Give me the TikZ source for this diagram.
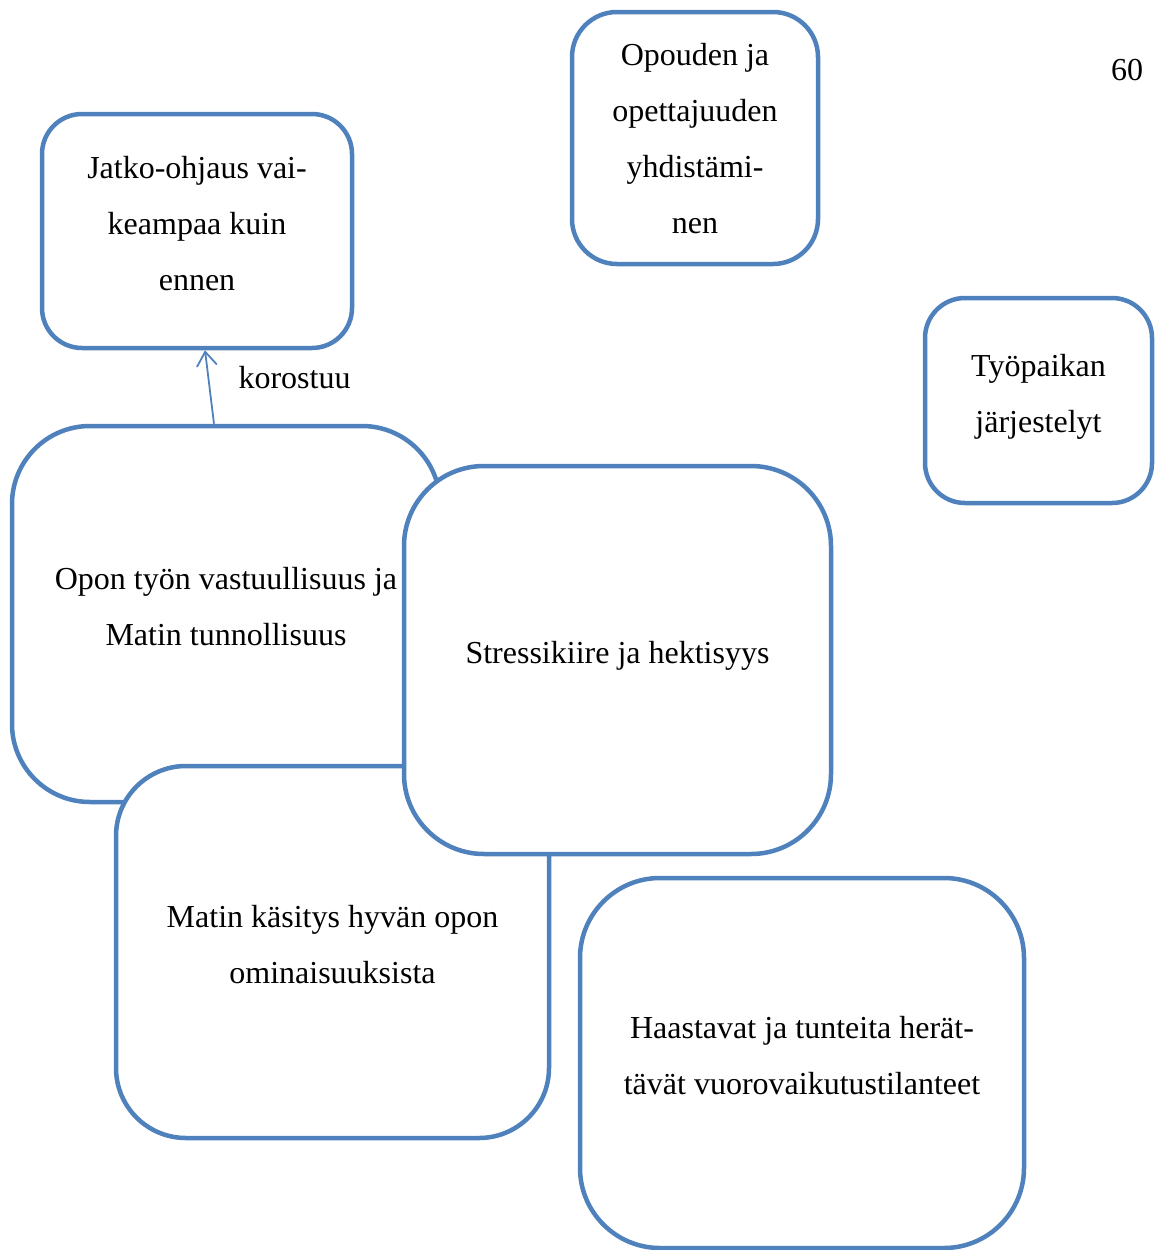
\documentclass[tikz,border=0pt]{standalone}
\usepackage{fontspec}
\setmainfont{Liberation Serif}
\usepackage{tikz}
\usetikzlibrary{arrows.meta,positioning}
\definecolor{boxblue}{RGB}{79,129,189}

\begin{document}
\begin{tikzpicture}[
    x=1pt, y=-1pt,
    font=\fontsize{32}{56}\selectfont,
    box/.style={
      rectangle, draw=boxblue, line width=4.5pt, fill=white,
      text centered, align=center, inner sep=0pt, text depth=15pt
    },
    arr/.style={-{Straight Barb[length=14pt,width=20pt]}, draw=boxblue, line width=1.8pt},
  ]
    \useasboundingbox (0,0) rectangle (1154,1250);

    \node[box, rounded corners=40pt, minimum width=310pt, minimum height=234pt] (jatko)   at (197,231)     {Jatko-ohjaus vai-\\keampaa kuin\\ennen};
    \node[box, rounded corners=45pt, minimum width=246pt, minimum height=252pt, text depth=0pt] (opouden) at (695,138) {Opouden ja\\opettajuuden\\yhdistämi-\\nen};
    \node[box, rounded corners=40pt, minimum width=227pt, minimum height=205pt] (tyopaikka) at (1038.5,400.5) {Työpaikan\\järjestelyt};
    \node[box, rounded corners=78pt, minimum width=428pt, minimum height=376pt] (opon)    at (226,614)     {Opon työn vastuullisuus ja\\Matin tunnollisuus};
    \node[box, rounded corners=70pt, minimum width=433pt, minimum height=372pt] (matin)   at (332.5,952)   {Matin käsitys hyvän opon\\ominaisuuksista};
    \node[box, rounded corners=80pt, minimum width=427pt, minimum height=388pt] (stressi) at (617.5,660)   {Stressikiire ja hektisyys};
    \node[box, rounded corners=80pt, minimum width=444pt, minimum height=370pt] (haaste)  at (802,1063)    {Haastavat ja tunteita herät-\\tävät vuorovaikutustilanteet};

    \node (sivu) at (1127,70) {60};

    \draw[arr] ([xshift=-12pt]opon.north) to node[right=26pt, pos=0.63]{korostuu} ([xshift=8pt]jatko.south);
  \end{tikzpicture}
\end{document}
